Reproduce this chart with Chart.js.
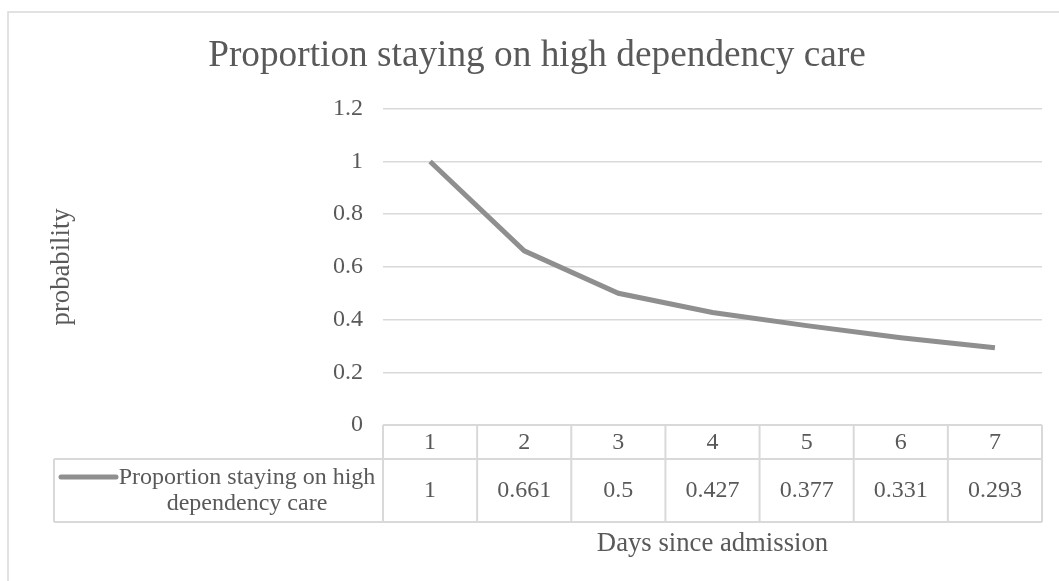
<!DOCTYPE html>
<html>
<head>
<meta charset="utf-8">
<script src="https://cdn.jsdelivr.net/npm/chart.js@4"></script>
<style>
  html, body { margin: 0; padding: 0; background: #fff; }
  #wrap { width: 1059px; height: 581px; }
</style>
</head>
<body>
<div id="wrap"><canvas id="chart" width="1059" height="581"></canvas></div>
<script>
const days = ['1', '2', '3', '4', '5', '6', '7'];
const proportion = [1, 0.661, 0.5, 0.427, 0.377, 0.331, 0.293];
const seriesName = 'Proportion staying on high dependency care';
const legendLines = ['Proportion staying on high', 'dependency care'];

const textColor = '#595959';
const gridColor = '#d9d9d9';
const lineColor = '#8f8f8f';
const serif = "'Liberation Serif', 'Times New Roman', serif";

// draws the frame, the data table under the axis and the x title
const tablePlugin = {
    id: 'dataTable',
    afterDraw(chart) {
        const ctx = chart.ctx;
        const x = chart.scales.x;
        const area = chart.chartArea;
        const top = area.bottom;
        const mid = top + 34;
        const bottom = top + 97;
        const tableLeft = 54;
        const colW = (area.right - area.left) / days.length;

        ctx.save();
        // outer frame
        ctx.strokeStyle = gridColor;
        ctx.lineWidth = 1.5;
        ctx.beginPath();
        ctx.moveTo(8, 581);
        ctx.lineTo(8, 12);
        ctx.lineTo(1059, 12);
        ctx.stroke();

        // table grid
        ctx.lineWidth = 2;
        ctx.beginPath();
        ctx.moveTo(area.left, top); ctx.lineTo(area.right, top);
        ctx.moveTo(tableLeft, mid); ctx.lineTo(area.right, mid);
        ctx.moveTo(tableLeft, bottom); ctx.lineTo(area.right, bottom);
        ctx.moveTo(tableLeft, mid); ctx.lineTo(tableLeft, bottom);
        for (let i = 0; i <= days.length; i++) {
            const cx = area.left + i * colW;
            ctx.moveTo(cx, top); ctx.lineTo(cx, bottom);
        }
        ctx.stroke();

        ctx.fillStyle = textColor;
        ctx.font = '24px ' + serif;
        ctx.textAlign = 'center';
        ctx.textBaseline = 'middle';
        days.forEach((d, i) => {
            const cx = x.getPixelForValue(i);
            ctx.fillText(d, cx, top + 18);
            ctx.fillText(String(proportion[i]), cx, mid + 32);
        });

        // legend key inside the table
        ctx.strokeStyle = lineColor;
        ctx.lineWidth = 5;
        ctx.lineCap = 'round';
        ctx.beginPath();
        ctx.moveTo(61, mid + 18);
        ctx.lineTo(116, mid + 18);
        ctx.stroke();
        ctx.fillText(legendLines[0], 247, mid + 19);
        ctx.fillText(legendLines[1], 247, mid + 45);

        // x axis title
        ctx.font = '26.7px ' + serif;
        ctx.fillText('Days since admission', (area.left + area.right) / 2, bottom + 22);
        ctx.restore();
    }
};

new Chart(document.getElementById('chart'), {
    type: 'line',
    data: {
        labels: days,
        datasets: [{
            label: seriesName,
            data: proportion,
            borderColor: lineColor,
            borderWidth: 5,
            pointRadius: 0,
            tension: 0,
            fill: false
        }]
    },
    options: {
        responsive: false,
        animation: false,
        layout: { padding: { left: 32, right: 17, top: 0, bottom: 156 } },
        plugins: {
            legend: { display: false },
            tooltip: { enabled: false },
            title: {
                display: true,
                text: 'Proportion staying on high dependency care',
                color: textColor,
                font: { family: serif, size: 37.3, weight: 'normal' },
                padding: { top: 34, bottom: 30 }
            }
        },
        scales: {
            x: {
                display: false,
                offset: true
            },
            y: {
                min: 0,
                max: 1.2,
                afterFit(scale) { scale.width = 351; },
                ticks: {
                    stepSize: 0.2,
                    color: textColor,
                    padding: 20,
                    font: { family: serif, size: 24 },
                    callback: v => String(+v.toFixed(1))
                },
                grid: { color: gridColor, lineWidth: 1.5, drawTicks: false },
                border: { display: false },
                title: {
                    display: true,
                    text: 'probability',
                    color: textColor,
                    font: { family: serif, size: 26.7 },
                    padding: { top: 14, bottom: 0 }
                }
            }
        }
    },
    plugins: [tablePlugin]
});
</script>
</body>
</html>
